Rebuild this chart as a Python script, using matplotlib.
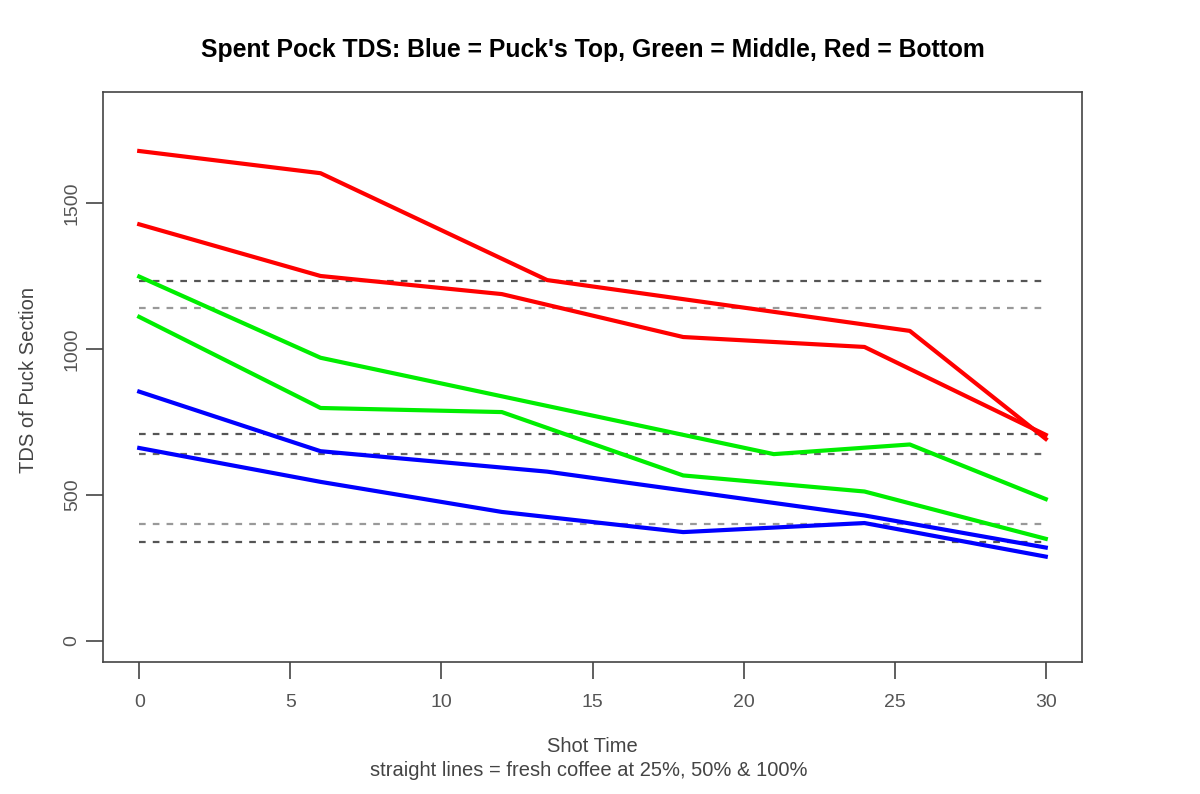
import matplotlib
matplotlib.use("Agg")
import matplotlib.pyplot as plt

plt.rcParams['font.family'] = ['Liberation Sans', 'DejaVu Sans']

# shot time (s) and TDS per puck section, two shots each
red_a_x = [0, 6, 13.5, 25.5, 30]
red_a_y = [1678, 1602, 1236, 1062, 692]
red_b_x = [0, 6, 12, 18, 24, 30]
red_b_y = [1427, 1250, 1188, 1041, 1007, 706]

green_a_x = [0, 6, 21, 25.5, 30]
green_a_y = [1248, 970, 640, 673, 486]
green_b_x = [0, 6, 12, 18, 24, 30]
green_b_y = [1110, 798, 784, 567, 512, 350]

blue_a_x = [0, 6, 13.5, 24, 30]
blue_a_y = [854, 650, 580, 430, 320]
blue_b_x = [0, 6, 12, 18, 24, 30]
blue_b_y = [661, 545, 442, 373, 404, 289]

# fresh coffee reference levels
ref_levels = [1233, 1140, 709, 640, 401, 339]
ref_colors = ['#555555', '#999999', '#555555', '#666666', '#999999', '#555555']

fig = plt.figure(figsize=(12, 7.94), dpi=100)
ax = fig.add_axes([0.0858, 0.1662, 0.8159, 0.7179])

for lvl, c in zip(ref_levels, ref_colors):
    ax.plot([0, 30], [lvl, lvl], color=c, lw=1.6, linestyle=(0, (3, 3.2)))

lw = 3.0
ax.plot(red_a_x, red_a_y, color='#ff0000', lw=lw)
ax.plot(red_b_x, red_b_y, color='#ff0000', lw=lw)
ax.plot(green_a_x, green_a_y, color='#00ee00', lw=lw)
ax.plot(green_b_x, green_b_y, color='#00ee00', lw=lw)
ax.plot(blue_a_x, blue_a_y, color='#0000ff', lw=lw)
ax.plot(blue_b_x, blue_b_y, color='#0000ff', lw=lw)

ax.set_xlim(-1.2, 31.2)
ax.set_ylim(-72, 1880)
ax.set_xticks([0, 5, 10, 15, 20, 25, 30])
ax.set_yticks([0, 500, 1000, 1500])
for s in ax.spines.values():
    s.set_color('#444444')
    s.set_linewidth(1.2)
ax.tick_params(length=12, width=1.2, color='#444444', labelsize=14,
               labelcolor='#555555')
ax.tick_params(axis='x', pad=11)
ax.tick_params(axis='y', pad=4)
for lab in ax.get_yticklabels():
    lab.set_rotation(90)
    lab.set_va('center')

ax.set_title("Spent Pock TDS: Blue = Puck's Top, Green = Middle, Red = Bottom",
             fontsize=17.8, fontweight='bold', pad=25)
fig.text(29 / 1200, 1 - 380 / 794, "TDS of Puck Section", fontsize=14.5,
         color='#444444', rotation=90, ha='center', va='center')
fig.text(592 / 1200, 1 - 747 / 794, "Shot Time", fontsize=14.5, color='#444444',
         ha='center', va='center')
fig.text(589 / 1200, 1 - 770 / 794, "straight lines = fresh coffee at 25%, 50% & 100%",
         fontsize=14.5, color='#444444', ha='center', va='center')

fig.savefig("out.png", dpi=100)
